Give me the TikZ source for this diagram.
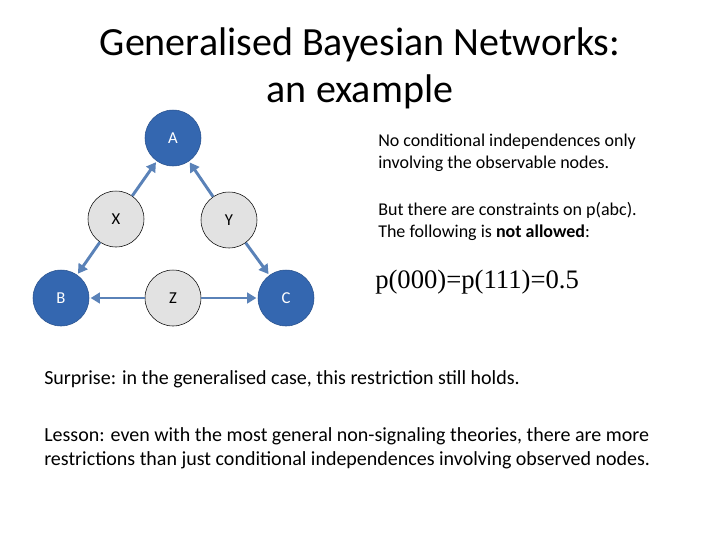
\documentclass[tikz,border=0pt]{standalone}
\usepackage{fontspec}
\setmainfont{Carlito}
\newfontfamily\serifrm{Liberation Serif}
\usetikzlibrary{arrows.meta}
\definecolor{nodeblue}{HTML}{3467B0}
\definecolor{arrowblue}{HTML}{5A82B8}
\definecolor{greyfill}{HTML}{E2E2E2}
\begin{document}
\begin{tikzpicture}[x=0.75pt,y=-0.75pt,
  obs/.style={circle,minimum size=42pt,inner sep=0pt,fill=nodeblue,draw=nodeblue!80!black,text=white,font=\fontsize{12.5}{14}\selectfont},
  hid/.style={circle,minimum size=42pt,inner sep=0pt,fill=greyfill,draw=black,font=\fontsize{12.5}{14}\selectfont},
  arr/.style={draw=arrowblue,line width=2.2pt,-{Triangle[length=7pt,width=8pt]},shorten >=1pt}]
\useasboundingbox (0,0) rectangle (720,540);
\node[font=\fontsize{30}{35}\selectfont,align=center] (title) at (360,68) {Generalised Bayesian Networks:\\an example};
\node[obs] (A) at (173,138) {A};
\node[hid] (X) at (116,219) {X};
\node[hid] (Y) at (229,220) {Y};
\node[obs] (B) at (61,298) {B};
\node[hid] (Z) at (173,298) {Z};
\node[obs] (C) at (286,298) {C};
\draw[arr] (X) -- (A);
\draw[arr] (X) -- (B);
\draw[arr] (Y) -- (A);
\draw[arr] (Y) -- (C);
\draw[arr] (Z) -- (B);
\draw[arr] (Z) -- (C);
\node[anchor=north west,align=left,font=\fontsize{13.5}{16.5}\selectfont,inner sep=0pt] (t1) at (378,134) {No conditional independences only\\involving the observable nodes.};
\node[anchor=north west,align=left,font=\fontsize{13.5}{16.5}\selectfont,inner sep=0pt] (t2) at (378,202) {But there are constraints on p(abc).\\The following is \textbf{not allowed}:};
\node[anchor=west,font=\serifrm\fontsize{20}{22}\selectfont,inner sep=0pt] (f) at (375,282) {p(000)=p(111)=0.5};
\node[anchor=north west,font=\fontsize{15}{18}\selectfont,inner sep=0pt] (s) at (44,370) {Surprise: in the generalised case, this restriction still holds.};
\node[anchor=north west,align=left,font=\fontsize{15}{18}\selectfont,inner sep=0pt] (l) at (44,427) {Lesson: even with the most general non-signaling theories, there are more\\restrictions than just conditional independences involving observed nodes.};
\end{tikzpicture}
\end{document}
